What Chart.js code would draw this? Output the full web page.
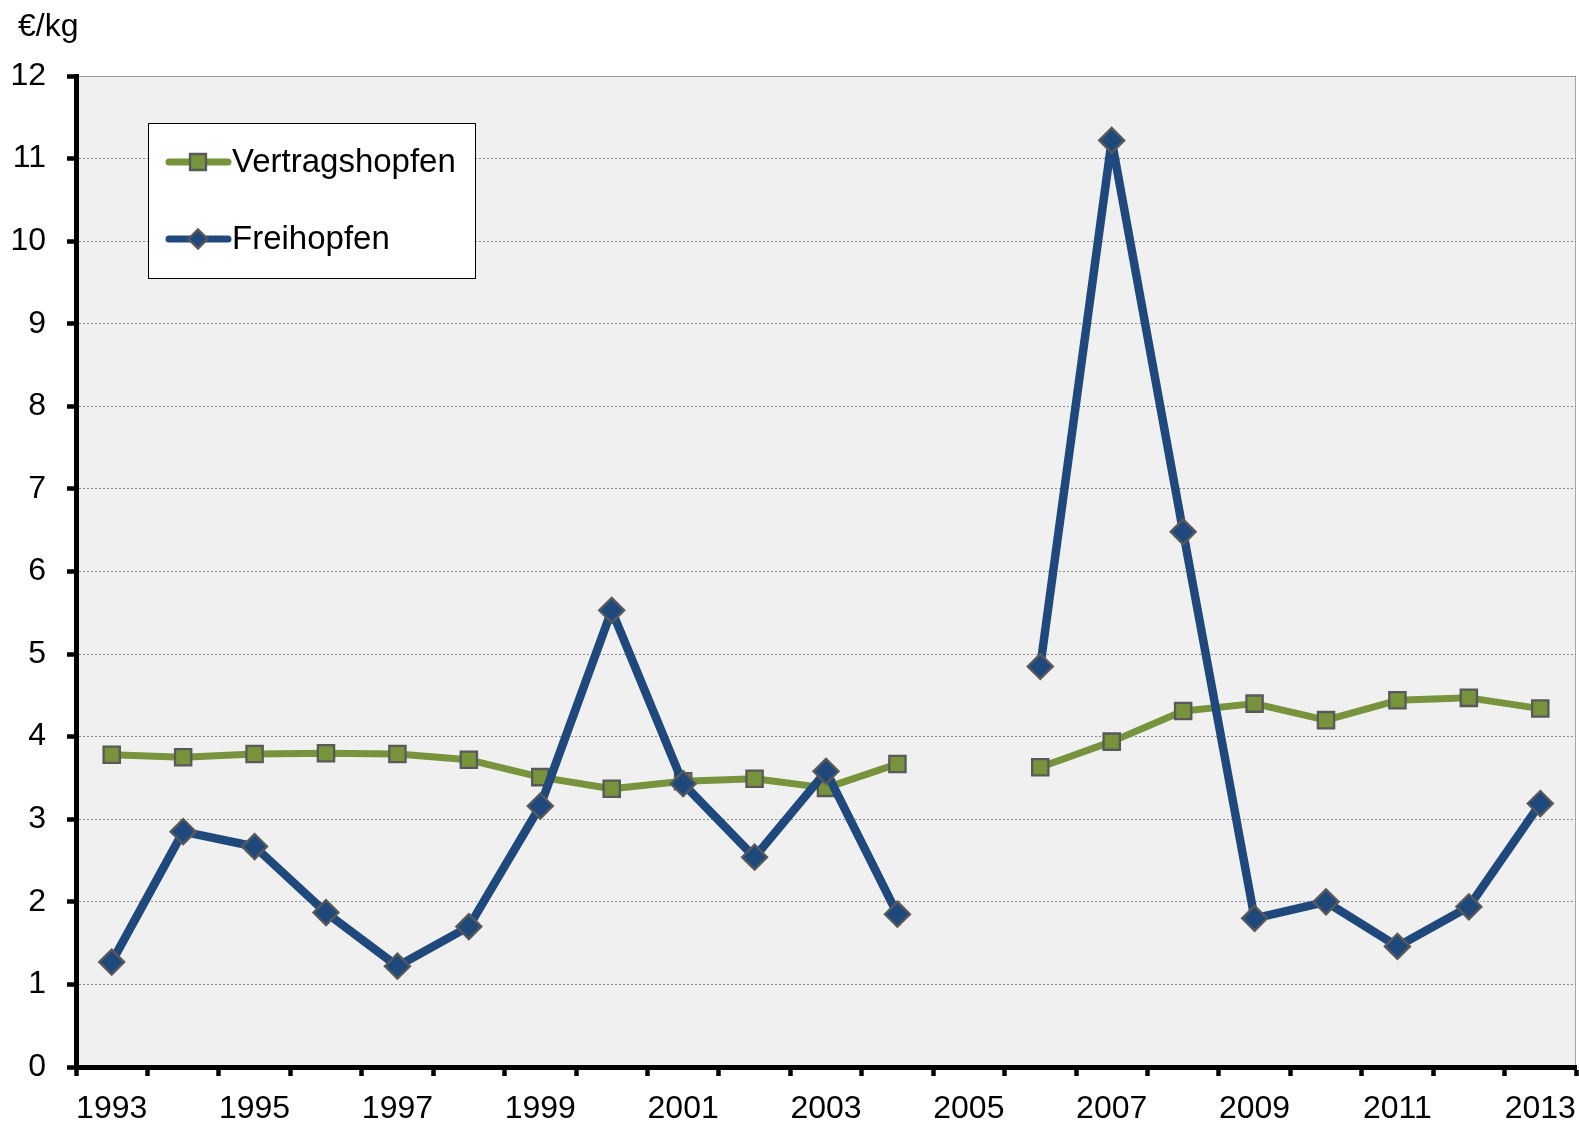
<!DOCTYPE html>
<html>
<head>
<meta charset="utf-8">
<script src="https://cdn.jsdelivr.net/npm/chart.js@4.4.1/dist/chart.umd.min.js"></script>
<style>
html,body{margin:0;padding:0;background:#fff;}
canvas{display:block;}
</style>
</head>
<body>
<canvas id="c" width="1579" height="1122"></canvas>
<script>
const categories = ['1993','1994','1995','1996','1997','1998','1999','2000','2001','2002','2003','2004','2005','2006','2007','2008','2009','2010','2011','2012','2013'];
const vertragshopfen = [3.78,3.75,3.79,3.80,3.79,3.72,3.51,3.37,3.46,3.49,3.38,3.67,null,3.63,3.94,4.31,4.40,4.20,4.44,4.47,4.34];
const freihopfen = [1.27,2.85,2.67,1.87,1.22,1.70,3.16,5.53,3.43,2.54,3.58,1.85,null,4.85,11.22,6.48,1.80,2.00,1.46,1.94,3.19];
const seriesNames = ['Vertragshopfen','Freihopfen'];
const yUnit = '€/kg';
const yMin = 0, yMax = 12, yStep = 1;

const FONT = '"Liberation Sans", Arial, sans-serif';
const GREEN = '#77933C', BLUE = '#1F497D', MARKER_BORDER = '#595959';
const legendMarkerRadius = [11.3, 9.5];

const bgPlugin = {
  id: 'plotBg',
  beforeDraw(chart) {
    const {ctx, chartArea: a} = chart;
    ctx.save();
    ctx.fillStyle = '#F0F0F0';
    ctx.fillRect(a.left, a.top, a.right - a.left, a.bottom - a.top);
    ctx.strokeStyle = '#A6A6A6';
    ctx.lineWidth = 1;
    ctx.beginPath();
    ctx.moveTo(a.left, a.top + 0.5);
    ctx.lineTo(a.right - 0.5, a.top + 0.5);
    ctx.lineTo(a.right - 0.5, a.bottom);
    ctx.stroke();
    ctx.restore();
  },
  afterDraw(chart) {
    const {ctx, chartArea: a} = chart;
    ctx.save();
    ctx.font = '32px ' + FONT;
    ctx.fillStyle = '#000';
    ctx.textBaseline = 'middle';
    ctx.textAlign = 'left';
    ctx.fillText(yUnit, 18, 27);
    const bx = a.left + 72, by = a.top + 47, bw = 327, bh = 155;
    ctx.fillStyle = '#fff';
    ctx.fillRect(bx, by, bw, bh);
    ctx.strokeStyle = '#000';
    ctx.lineWidth = 1;
    ctx.strokeRect(bx + 0.5, by + 0.5, bw, bh);
    const rows = [by + 39, by + 116];
    chart.data.datasets.forEach((ds, i) => {
      const y = rows[i];
      ctx.save();
      ctx.strokeStyle = ds.borderColor;
      ctx.lineWidth = 7;
      ctx.lineCap = 'round';
      ctx.beginPath();
      ctx.moveTo(bx + 21, y);
      ctx.lineTo(bx + 80, y);
      ctx.stroke();
      ctx.fillStyle = ds.pointBackgroundColor;
      ctx.strokeStyle = ds.pointBorderColor;
      ctx.lineWidth = ds.pointBorderWidth;
      Chart.helpers.drawPoint(ctx, {
        pointStyle: ds.pointStyle, radius: legendMarkerRadius[i], rotation: 0,
        borderWidth: ds.pointBorderWidth
      }, bx + 50, y);
      ctx.font = '33px ' + FONT;
      ctx.fillStyle = '#000';
      ctx.textBaseline = 'middle';
      ctx.textAlign = 'left';
      ctx.fillText(ds.label, bx + 84, y + 1);
      ctx.restore();
    });
    ctx.restore();
  }
};

new Chart(document.getElementById('c'), {
  type: 'line',
  data: {
    labels: categories,
    datasets: [
      {
        label: seriesNames[0], data: vertragshopfen, order: 1,
        borderColor: GREEN, backgroundColor: GREEN, borderWidth: 7,
        pointStyle: 'rect', pointRadius: 11.5, pointHoverRadius: 11.5,
        pointBackgroundColor: GREEN, pointBorderColor: MARKER_BORDER, pointBorderWidth: 2.3,
        tension: 0, spanGaps: false, borderJoinStyle: 'round', borderCapStyle: 'round'
      },
      {
        label: seriesNames[1], data: freihopfen, order: 0,
        borderColor: BLUE, backgroundColor: BLUE, borderWidth: 8.5,
        pointStyle: 'rectRot', pointRadius: 12.5, pointHoverRadius: 12.5,
        pointBackgroundColor: BLUE, pointBorderColor: MARKER_BORDER, pointBorderWidth: 2.3,
        tension: 0, spanGaps: false, borderJoinStyle: 'round', borderCapStyle: 'round'
      }
    ]
  },
  options: {
    responsive: false,
    animation: false,
    devicePixelRatio: 1,
    layout: {autoPadding: false, padding: {top: 76, right: 3, left: 0, bottom: 0}},
    plugins: {legend: {display: false}, tooltip: {enabled: false}, title: {display: false}},
    scales: {
      x: {
        type: 'category',
        offset: true,
        afterFit(s) { s.height = 55; s.paddingRight = 0; s.paddingLeft = 0; },
        border: {display: true, color: '#000', width: 5},
        grid: {display: true, offset: true, drawOnChartArea: false, drawTicks: true,
               tickLength: 9, tickWidth: 4.5, tickColor: '#000', color: '#000'},
        ticks: {
          autoSkip: false, maxRotation: 0, minRotation: 0, padding: 14,
          color: '#000', font: {family: FONT, size: 32},
          callback(v, i) { return i % 2 === 0 ? this.getLabelForValue(v) : ''; }
        }
      },
      y: {
        min: yMin, max: yMax,
        afterFit(s) { s.width = 76; },
        border: {display: true, color: '#000', width: 5, dash: [2, 2]},
        grid: {display: true, color: '#8C8C8C', lineWidth: 1, drawTicks: true,
               tickLength: 9, tickWidth: 4.5, tickColor: '#000', tickBorderDash: []},
        ticks: {stepSize: yStep, padding: 21, color: '#000', font: {family: FONT, size: 32}}
      }
    }
  },
  plugins: [bgPlugin]
});
</script>
</body>
</html>
